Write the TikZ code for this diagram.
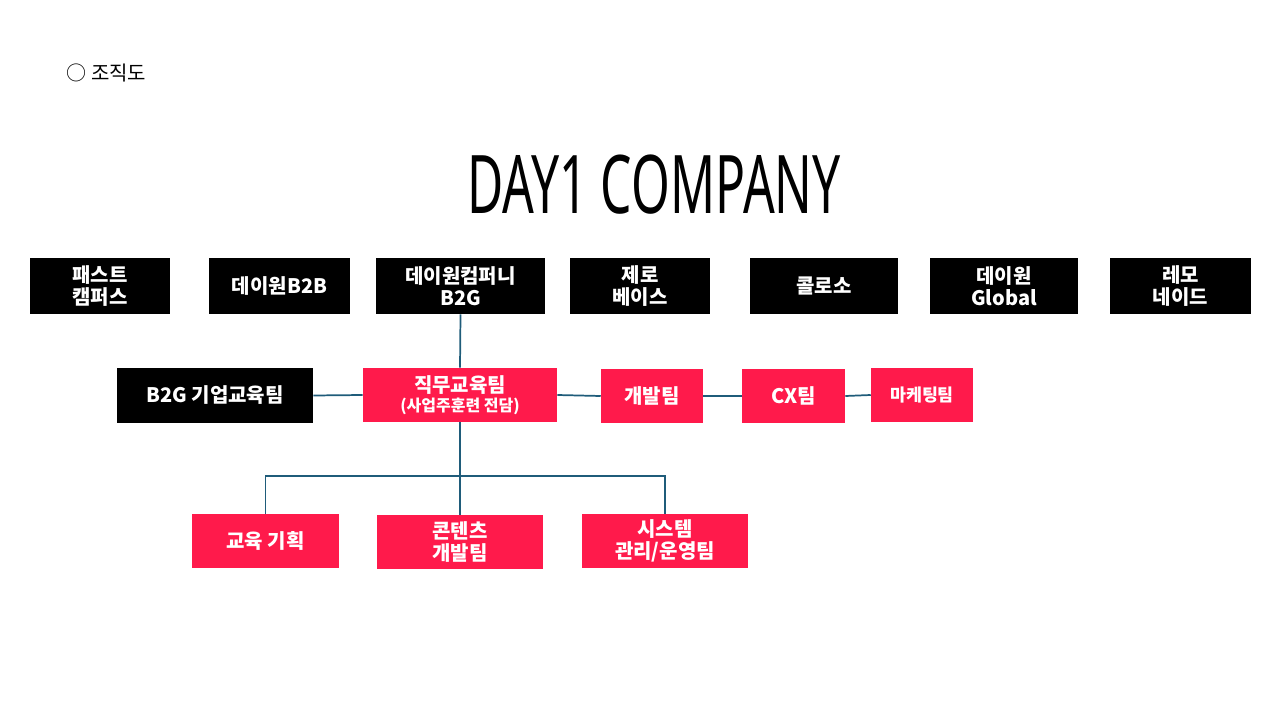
\documentclass[tikz,border=0pt]{standalone}
\usepackage{fontspec}
\setmainfont{Noto Sans CJK KR}
\newfontfamily\titlefont{Noto Sans}
\begin{document}
\begin{tikzpicture}[x=0.75pt,y=-0.75pt,
  box/.style={fill=black,text=white,font=\bfseries\fontsize{15}{16.5}\selectfont,align=center,inner sep=0pt},
  pbox/.style={box,fill=pinkc},
  ln/.style={draw=linec,line width=1.3pt}]
\definecolor{pinkc}{HTML}{FF1A4B}
\definecolor{linec}{HTML}{1F5C7A}
\useasboundingbox (0,0) rectangle (1280,720);
\node[anchor=west,font=\fontsize{15}{18}\selectfont] (hd) at (62,73) {○ 조직도};
\node (title) at (654,185) {\titlefont\bfseries\resizebox{280pt}{44pt}{DAY1 COMPANY}};
\newcommand\bx[7]{\node[#1,minimum width=#4*0.75pt-#2*0.75pt,minimum height=#5*0.75pt-#3*0.75pt] (#6) at ({(#2+#4)/2},{(#3+#5)/2}) {#7};}
\bx{box}{30}{258}{170}{314}{a1}{패스트\\캠퍼스}
\bx{box}{209}{258}{350}{314}{a2}{데이원B2B}
\bx{box}{376}{258}{545}{314}{a3}{데이원컴퍼니\\B2G}
\bx{box}{570}{258}{710}{314}{a4}{제로\\베이스}
\bx{box}{750}{258}{898}{314}{a5}{콜로소}
\bx{box}{930}{258}{1078}{314}{a6}{데이원\\Global}
\bx{box}{1110}{258}{1251}{314}{a7}{레모\\네이드}
\bx{box}{117}{368}{313}{423}{b1}{B2G 기업교육팀}
\bx{pbox}{363}{368}{557}{422}{b2}{직무교육팀\\[-2pt]{\fontsize{12}{13}\selectfont (사업주훈련 전담)}}
\bx{pbox}{601}{369}{703}{423}{b3}{개발팀}
\bx{pbox}{742}{369}{845}{423}{b4}{CX팀}
\bx{pbox}{871}{368}{973}{422}{b5}{\fontsize{13}{14}\selectfont 마케팅팀}
\bx{pbox}{192}{514}{339}{568}{c1}{교육 기획}
\bx{pbox}{377}{515}{543}{569}{c2}{콘텐츠\\개발팀}
\bx{pbox}{582}{514}{748}{568}{c3}{시스템\\관리/운영팀}
\coordinate (j) at (460,476);
\draw[ln] (a3.south) -- (b2.north);
\draw[ln] (b1.east) -- (b2.west);
\draw[ln] (b2.east) -- (b3.west);
\draw[ln] (b3.east) -- (b4.west);
\draw[ln] (b4.east) -- (b5.west);
\draw[ln] (b2.south) -- (c2.north);
\draw[ln] (c1.north) |- (j) -| (c3.north);
\end{tikzpicture}
\end{document}
